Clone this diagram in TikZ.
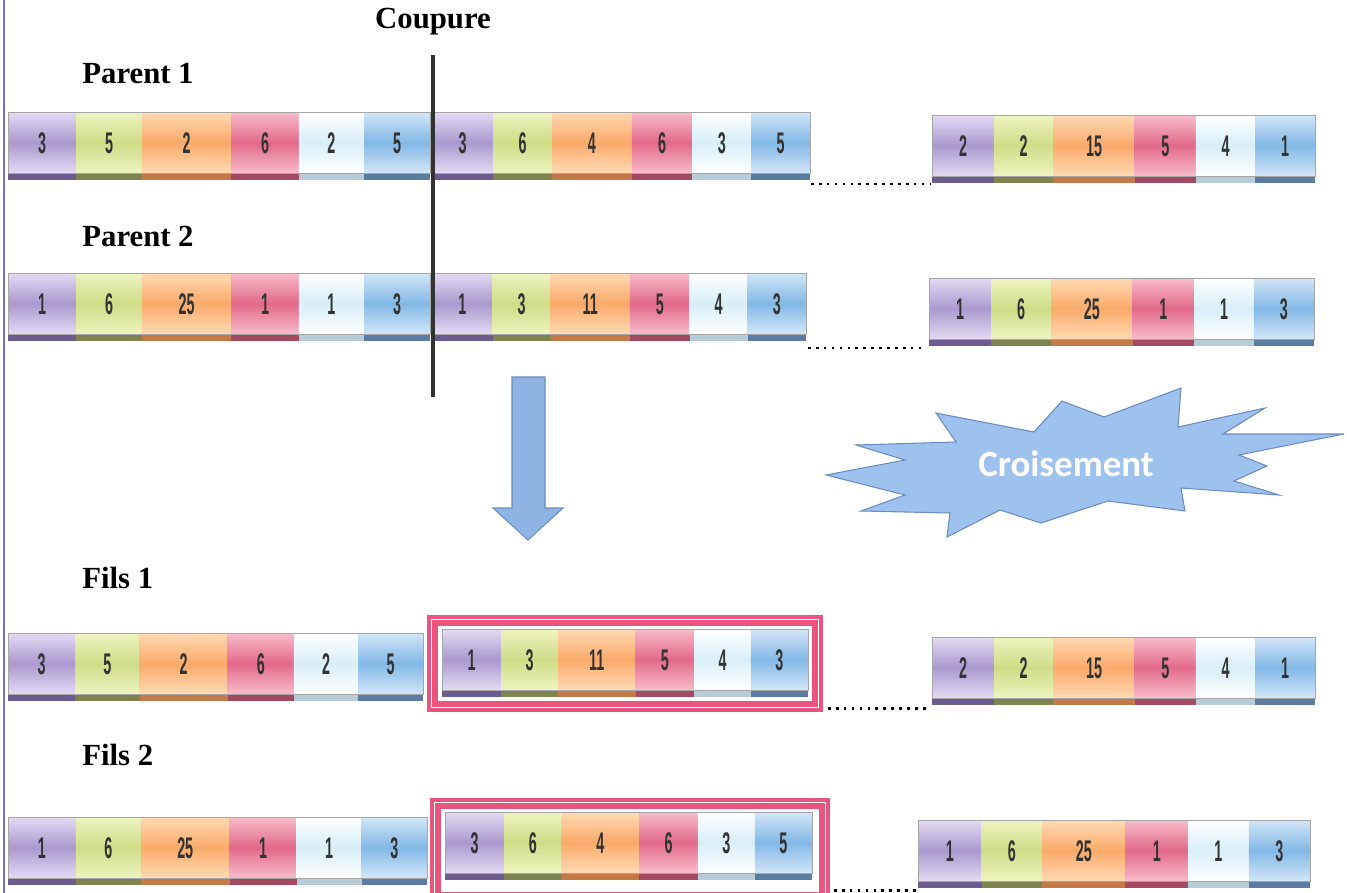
\documentclass[tikz,border=0pt]{standalone}
\usepackage{fontspec}
\setmainfont{Liberation Serif}
\newfontfamily\genefont{Liberation Sans}
\newfontfamily\burstfont{Carlito}
\usetikzlibrary{positioning}

% gene colours: light / middle / bar
\definecolor{violetL}{HTML}{E4DAF3}
\definecolor{violetM}{HTML}{A999CF}
\definecolor{violetD}{HTML}{6B5B8E}
\definecolor{limeL}{HTML}{EEF4C2}
\definecolor{limeM}{HTML}{CEDC86}
\definecolor{limeD}{HTML}{7D8450}
\definecolor{orangeL}{HTML}{FFDAB4}
\definecolor{orangeM}{HTML}{F9AA6A}
\definecolor{orangeD}{HTML}{C47A48}
\definecolor{roseL}{HTML}{F8BCCA}
\definecolor{roseM}{HTML}{E2698A}
\definecolor{roseD}{HTML}{A34A62}
\definecolor{paleL}{HTML}{FFFFFF}
\definecolor{paleM}{HTML}{D8EEF8}
\definecolor{paleD}{HTML}{B8CCD8}
\definecolor{blueL}{HTML}{D2E6F8}
\definecolor{blueM}{HTML}{82B8E6}
\definecolor{blueD}{HTML}{5B7BA3}
\definecolor{framepink}{HTML}{E9557F}
\definecolor{burstblue}{HTML}{9EC2EE}
\definecolor{burstedge}{HTML}{6A8CC0}
\definecolor{arrowblue}{HTML}{8EB4E3}
\definecolor{edgeline}{HTML}{7B6CC8}

\tikzset{
  gene1/.style={top color=violetL, bottom color=violetL, middle color=violetM},
  gene2/.style={top color=limeL, bottom color=limeL, middle color=limeM},
  gene3/.style={top color=orangeL, bottom color=orangeL, middle color=orangeM},
  gene4/.style={top color=roseL, bottom color=roseL, middle color=roseM},
  gene5/.style={top color=paleL, bottom color=paleL, middle color=paleM},
  gene6/.style={top color=blueL, bottom color=blueL, middle color=blueM},
  bar1/.style={fill=violetD}, bar2/.style={fill=limeD}, bar3/.style={fill=orangeD},
  bar4/.style={fill=roseD}, bar5/.style={fill=paleD}, bar6/.style={fill=blueD},
}

% share of each gene in a chromosome
\def\shares{{0.162,0.155,0.212,0.160,0.155,0.156}}

% #1 name, #2 left, #3 top, #4 width, #5 values
\newcommand{\chromo}[5]{%
  \xdef\xa{#2}%
  \foreach \v [count=\i] in {#5} {%
    \pgfmathsetmacro\xb{\xa+#4*\shares[\i-1]}%
    \shade[gene\i] (\xa,#3) rectangle (\xb,#3+61);
    \fill[bar\i] (\xa,#3+61) rectangle (\xb,#3+68);
    \node[num] (#1-\i) at ({(\xa+\xb)/2},#3+31) {\scalebox{0.48}[1]{\v}};
    \xdef\xa{\xb}%
  }%
  \draw[gray!70, thin] (#2,#3) rectangle (\xa,#3+61);
}

\begin{document}
\begin{tikzpicture}[x=0.02cm, y=-0.02cm,
  title/.style={font=\bfseries\fontsize{17.5}{20}\selectfont, anchor=west, inner sep=0pt},
  num/.style={font=\genefont\bfseries\fontsize{17}{17}\selectfont, text=black!80, inner sep=0pt},
  frame/.style={draw=framepink, line width=6.5pt},
  dots/.style={line width=1.7pt, dash pattern=on 1.5pt off 3pt}]
\useasboundingbox (0,0) rectangle (1347,893);
\draw[edgeline, line width=1pt] (4,0) -- (4,893);

% labels
\node[title, anchor=center] (coupure) at (433,22) {Coupure};
\node[title] (parent1) at (82,73) {Parent 1};
\node[title] (parent2) at (82,236) {Parent 2};
\node[title] (fils1) at (82,578) {Fils 1};
\node[title] (fils2) at (82,755) {Fils 2};

% Parent 1
\chromo{pa}{8}{112}{422}{3,5,2,6,2,5}
\chromo{pb}{432}{112}{378}{3,6,4,6,3,5}
\chromo{pc}{932}{115}{383}{2,2,15,5,4,1}
% Parent 2
\chromo{qa}{8}{273}{422}{1,6,25,1,1,3}
\chromo{qb}{432}{273}{374}{1,3,11,5,4,3}
\chromo{qc}{929}{278}{385}{1,6,25,1,1,3}

% cut point
\coordinate (cuttop) at (433,55);
\coordinate (cutbot) at (433,397);
\draw[black!80, line width=2.3pt] (cuttop) -- (cutbot);

% Fils 1
\draw[frame] (432.5,620.5) rectangle (817.5,706.5);
\draw[white, line width=0.9pt] (431.5,619.5) rectangle (818.5,707.5);
\chromo{fa}{8}{633}{415}{3,5,2,6,2,5}
\chromo{fb}{442}{629}{366}{1,3,11,5,4,3}
\chromo{fc}{932}{637}{383}{2,2,15,5,4,1}
% Fils 2
\draw[frame] (435.5,803.5) rectangle (824.5,898);
\draw[white, line width=0.9pt] (434.5,802.5) rectangle (825.5,899);
\chromo{ga}{8}{817}{419}{1,6,25,1,1,3}
\chromo{gb}{445}{812}{367}{3,6,4,6,3,5}
\chromo{gc}{918}{820}{392}{1,6,25,1,1,3}

% remaining genes
\draw[dots] (811,184) -- (931,184);
\draw[dots] (808,348) -- (926,348);
\draw[dots] (828,708) -- (929,708);
\draw[dots] (834,890) -- (917,890);

% arrow down
\filldraw[fill=arrowblue, draw=burstedge, line width=0.6pt]
  (512,377) -- (545,377) -- (545,508) -- (563,508) -- (528,540)
  -- (493,508) -- (512,508) -- cycle;

% crossover burst
\filldraw[fill=burstblue, draw=burstedge, line width=0.6pt]
  (826,475) -- (905,460) -- (856,445) -- (956,442) -- (936,413)
  -- (1034,432) -- (1062,401) -- (1104,417) -- (1181,388) -- (1178,427)
  -- (1265,408) -- (1223,434) -- (1344,434) -- (1239,455) -- (1267,466)
  -- (1234,481) -- (1279,495) -- (1181,488) -- (1185,511) -- (1108,501)
  -- (1041,523) -- (1000,510) -- (947,537) -- (950,513) -- (861,511)
  -- (905,495) -- cycle;
\node[font=\burstfont\bfseries\fontsize{21}{24}\selectfont, text=white] (croisement) at (1066,464) {Croisement};
\end{tikzpicture}
\end{document}
